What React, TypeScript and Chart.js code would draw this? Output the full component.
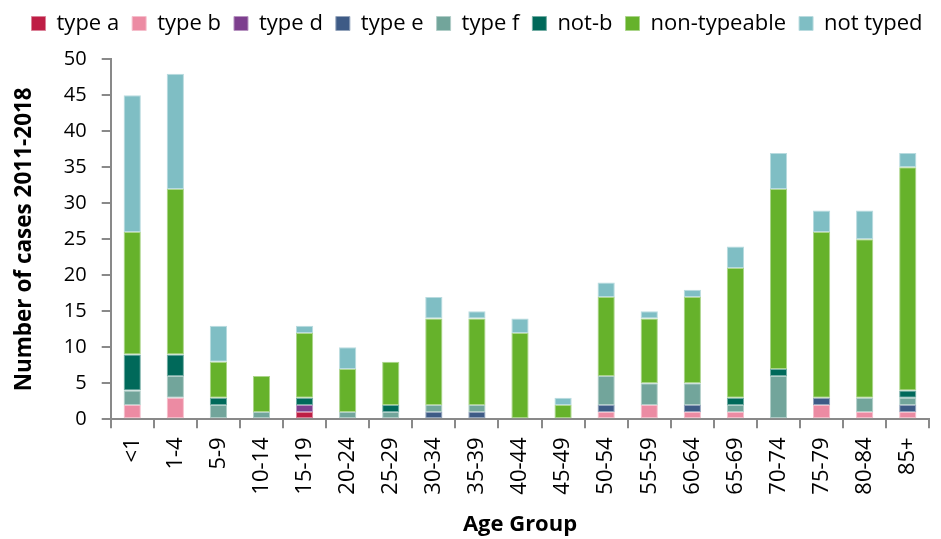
import React, { useEffect, useRef } from "react";
import { Chart, registerables } from "chart.js";

Chart.register(...registerables);

const categories = [
  "<1", "1-4", "5-9", "10-14", "15-19", "20-24", "25-29", "30-34", "35-39", "40-44",
  "45-49", "50-54", "55-59", "60-64", "65-69", "70-74", "75-79", "80-84", "85+",
];

const typeA = [0, 0, 0, 0, 1, 0, 0, 0, 0, 0, 0, 0, 0, 0, 0, 0, 0, 0, 0];
const typeB = [2, 3, 0, 0, 0, 0, 0, 0, 0, 0, 0, 1, 2, 1, 1, 0, 2, 1, 1];
const typeD = [0, 0, 0, 0, 1, 0, 0, 0, 0, 0, 0, 0, 0, 0, 0, 0, 0, 0, 0];
const typeE = [0, 0, 0, 0, 0, 0, 0, 1, 1, 0, 0, 1, 0, 1, 0, 0, 1, 0, 1];
const typeF = [2, 3, 2, 1, 0, 1, 1, 1, 1, 0, 0, 4, 3, 3, 1, 6, 0, 2, 1];
const notB = [5, 3, 1, 0, 1, 0, 1, 0, 0, 0, 0, 0, 0, 0, 1, 1, 0, 0, 1];
const nonTypeable = [17, 23, 5, 5, 9, 6, 6, 12, 12, 12, 2, 11, 9, 12, 18, 25, 23, 22, 31];
const notTyped = [19, 16, 5, 0, 1, 3, 0, 3, 1, 2, 1, 2, 1, 1, 3, 5, 3, 4, 2];

const seriesNames = ["type a", "type b", "type d", "type e", "type f", "not-b", "non-typeable", "not typed"];
const seriesColors = ["#BE1E45", "#EC8BA3", "#7D3F8E", "#3E5B86", "#72A59B", "#00695A", "#66B22B", "#7FBEC4"];

const yMin = 0;
const yMax = 50;
const yStep = 5;

const xTitle = "Age Group";
const yTitle = "Number of cases 2011-2018";

function tint(hex: string, amt: number): string {
  const n = parseInt(hex.slice(1), 16);
  const r = (n >> 16) & 255;
  const g = (n >> 8) & 255;
  const b = n & 255;
  const m = (c: number) => Math.round(c + (255 - c) * amt);
  return `rgb(${m(r)},${m(g)},${m(b)})`;
}

export default function App() {
  const ref = useRef<HTMLCanvasElement>(null);

  useEffect(() => {
    const canvas = ref.current;
    if (!canvas) return;
    Chart.defaults.font.family = "'Open Sans', sans-serif";
    Chart.defaults.color = "#000";
    const seriesData = [typeA, typeB, typeD, typeE, typeF, notB, nonTypeable, notTyped];
    const axisGray = "#898989";

    const chart = new Chart(canvas, {
      type: "bar",
      data: {
        labels: categories,
        datasets: seriesNames.map((name, i) => ({
          label: name,
          data: seriesData[i],
          backgroundColor: seriesColors[i],
          borderColor: tint(seriesColors[i], 0.45),
          borderWidth: 1,
          borderSkipped: false,
          barPercentage: 0.4,
          categoryPercentage: 1,
        })),
      },
      options: {
        responsive: false,
        animation: false,
        layout: { padding: { left: 13, right: 0, top: -3.5, bottom: 0 } },
        plugins: {
          legend: {
            position: "top",
            weight: 3000,
            labels: {
              boxWidth: 14,
              boxHeight: 14,
              padding: 13,
              color: "#000",
              font: { size: 22 },
            },
          },
          // empty title used only as a spacer between the legend and the plot
          title: {
            display: true,
            text: "",
            position: "top",
            font: { size: 10 },
            padding: { top: 0, bottom: 2.8 },
          },
          tooltip: { enabled: false },
        },
        scales: {
          x: {
            stacked: true,
            grid: {
              display: true,
              drawOnChartArea: false,
              drawTicks: true,
              tickLength: 9,
              color: axisGray,
              lineWidth: 2,
              offset: true,
            },
            border: { display: true, color: axisGray, width: 2 },
            ticks: {
              color: "#000",
              font: { size: 22 },
              maxRotation: 90,
              minRotation: 90,
              padding: 9,
              autoSkip: false,
            },
            title: {
              display: true,
              text: xTitle,
              color: "#000",
              font: { size: 22, weight: "bold" },
              padding: { top: 0, bottom: 1 },
            },
            afterFit: (s: any) => {
              s.height = 119.7;
              s.paddingRight = 11.7;
              s.paddingLeft = 0;
            },
          },
          y: {
            stacked: true,
            min: yMin,
            max: yMax,
            ticks: { stepSize: yStep, color: "#000", font: { size: 20 }, padding: 15 },
            grid: {
              drawOnChartArea: false,
              drawTicks: true,
              tickLength: 9,
              color: axisGray,
              lineWidth: 2,
            },
            border: { display: true, color: axisGray, width: 2 },
            title: {
              display: true,
              text: yTitle,
              color: "#000",
              font: { size: 22.5, weight: "bold" },
              padding: { top: -1.5, bottom: 0 },
            },
            afterFit: (s: any) => {
              s.width = 97.7;
              s.paddingTop = 59.3;
              s.paddingBottom = 0;
            },
          },
        },
      },
    });
    return () => chart.destroy();
  }, []);

  return (
    <div style={{ position: "absolute", left: 0, top: 0, width: 941, height: 539 }}>
      <canvas ref={ref} width={941} height={539} style={{ display: "block" }} />
    </div>
  );
}
